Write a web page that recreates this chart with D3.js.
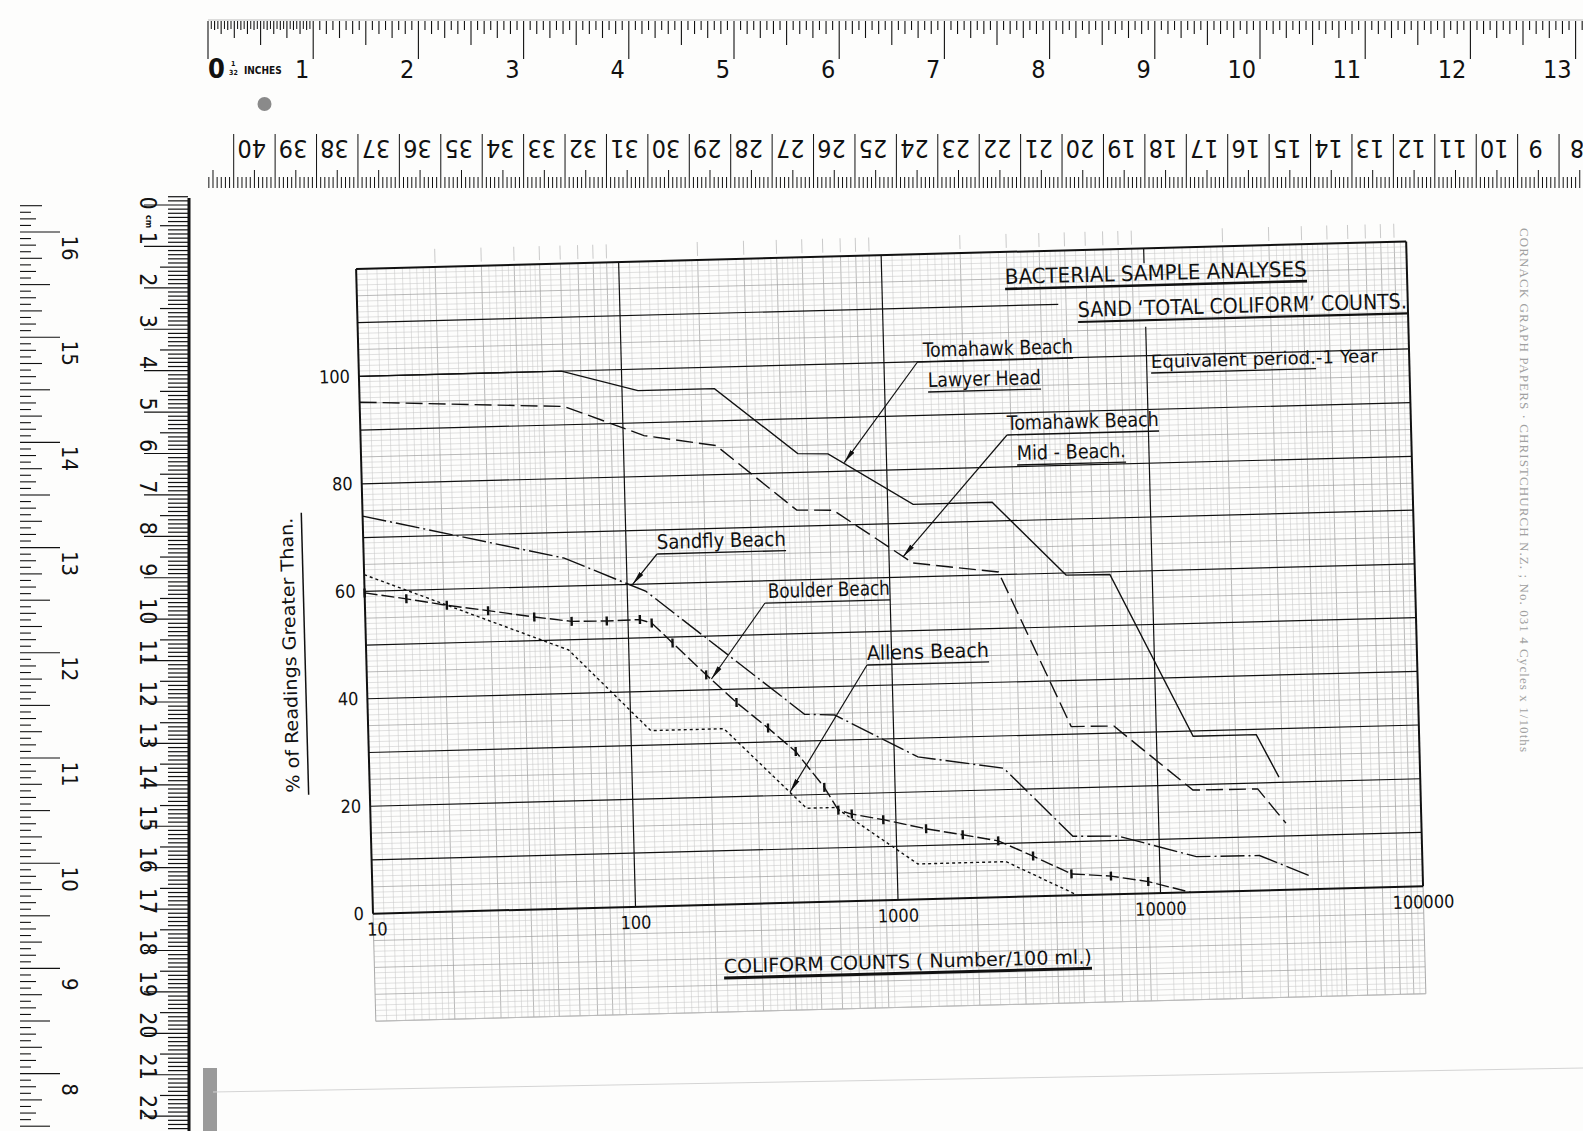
<!DOCTYPE html>
<html>
<head>
<meta charset="utf-8">
<script src="https://cdn.jsdelivr.net/npm/d3@7"></script>
<style>
  body { margin: 0; background: #fdfdfc; }
  text { font-family: "Liberation Sans Narrow", "DejaVu Sans Condensed", "DejaVu Sans", sans-serif; fill: #111; }
</style>
</head>
<body>
<div id="chart"></div>
<script>
// ---- data: [coliform count per 100 ml, % of readings greater than] ----
const countTicks = [10, 100, 1000, 10000, 100000];
const pctTicks = [0, 20, 40, 60, 80, 100];

const lawyerHead = [[10, 100], [59, 100], [115, 96], [225, 96], [460, 83.5], [600, 83.3], [1250, 73.5],
  [2500, 73.5], [4700, 59.6], [6900, 59.5], [13800, 29], [24000, 29], [29000, 21]];
const midBeach = [[10, 95.2], [60, 93.4], [120, 87.6], [225, 85.4], [450, 73], [620, 72.8], [1230, 62.6],
  [2600, 60.5], [4750, 31.4], [6900, 31.3], [13600, 19], [24000, 18.9], [30500, 12.4]];
const sandfly = [[10, 74], [58, 65.2], [118, 58.6], [460, 35], [600, 34.7], [1230, 26.5], [2600, 24],
  [4700, 11], [7000, 10.8], [13800, 6.6], [24000, 6.5], [37500, 2.4]];
const boulder = [[10, 59.7], [14.4, 58.4], [20.5, 57], [29.4, 55.8], [44, 54.4], [61, 53.4], [83, 53.3],
  [111, 53.4], [123, 52.7], [147, 48.9], [196, 42.8], [254, 37.5], [333, 32.6], [422, 28.1], [538, 21.3],
  [605, 17], [680, 16.2], [895, 15], [1300, 13.1], [1790, 11.8], [2440, 10.5], [3300, 7.5], [4600, 4],
  [6500, 3.4], [9000, 2.2], [13000, 0]];
const allens = [[10, 63.1], [59, 48.1], [119, 32.7], [226, 32.7], [458, 17.5], [590, 17.5], [1200, 6.6],
  [2600, 6.6], [4700, 0.3]];

// ---- page ----
const W = 1583, H = 1131;
const svg = d3.select("#chart").append("svg").attr("width", W).attr("height", H);
svg.append("rect").attr("width", W).attr("height", H).attr("fill", "#fdfdfc");

// the sheet was scanned a little crooked
const origin = { x: 373, y: 913.7 }, tilt = -1.5;
const rad = -tilt * Math.PI / 180;
function toLocal(X, Y) {
  let dx = X - origin.x, dy = Y - origin.y;
  return [dx * Math.cos(rad) - dy * Math.sin(rad), dx * Math.sin(rad) + dy * Math.cos(rad)];
}

let x = d3.scaleLog().domain([10, 100000]).range([0, 1050.4]);
let y = d3.scaleLinear().domain([0, 120]).range([0, -645]);

let chart = svg.append("g")
  .attr("transform", `translate(${origin.x},${origin.y}) rotate(${tilt})`);

// fine ruling of the graph paper
const fineMults = [1.1, 1.2, 1.3, 1.4, 1.5, 1.6, 1.7, 1.8, 1.9, 2, 2.2, 2.4, 2.6, 2.8, 3, 3.2, 3.4, 3.6, 3.8,
  4, 4.2, 4.4, 4.6, 4.8, 5, 5.5, 6, 6.5, 7, 7.5, 8, 8.5, 9, 9.5];
let fine = chart.append("g");
[10, 100, 1000, 10000].forEach(dec => {
  fineMults.forEach(m => {
    let whole = Number.isInteger(m);
    fine.append("line")
      .attr("x1", x(dec * m)).attr("x2", x(dec * m))
      .attr("y1", y(-20)).attr("y2", y(120))
      .attr("stroke", whole ? "#9c9c9c" : "#c8c8c8")
      .attr("stroke-width", whole ? 0.7 : 0.55);
    if (whole) {
      fine.append("line")
        .attr("x1", x(dec * m)).attr("x2", x(dec * m))
        .attr("y1", y(120) - 4).attr("y2", y(120) - 18)
        .attr("stroke", "#bdbdbd").attr("stroke-width", 0.8);
    }
  });
});
d3.range(-20, 121).forEach(p => {
  if (p >= 0 && p % 10 === 0) return;
  fine.append("line")
    .attr("x1", 0).attr("x2", x(100000))
    .attr("y1", y(p)).attr("y2", y(p))
    .attr("stroke", p % 5 === 0 ? "#9c9c9c" : "#c8c8c8")
    .attr("stroke-width", p % 5 === 0 ? 0.7 : 0.55);
});
fine.append("line").attr("x1", 0).attr("x2", 0).attr("y1", 0).attr("y2", y(-20)).attr("stroke", "#aaa");
fine.append("line").attr("x1", x(100000)).attr("x2", x(100000)).attr("y1", 0).attr("y2", y(-20)).attr("stroke", "#aaa");
fine.append("line").attr("x1", 0).attr("x2", x(100000)).attr("y1", y(-20)).attr("y2", y(-20)).attr("stroke", "#bbb");

// main ruling
let major = chart.append("g").attr("stroke", "#111");
d3.range(0, 121, 10).forEach(p => {
  major.append("line")
    .attr("x1", 0).attr("x2", p === 110 ? x(4670) : x(100000))
    .attr("y1", y(p)).attr("y2", y(p))
    .attr("stroke-width", (p === 0 || p === 120) ? 2 : 1.2);
});
countTicks.forEach(c => {
  let edge = (c === 10 || c === 100000);
  let spans = c === 10000 ? [[0, 105.4], [117.2, 120]] : [[0, 120]];
  spans.forEach(s => {
    major.append("line")
      .attr("x1", x(c)).attr("x2", x(c))
      .attr("y1", y(s[0])).attr("y2", y(s[1]))
      .attr("stroke-width", edge ? 2 : 1.2);
  });
});

// axis labels
chart.append("g").selectAll("text").data(pctTicks).enter().append("text")
  .attr("x", -9).attr("y", d => y(d) + 6)
  .attr("text-anchor", "end").attr("font-size", 18)
  .text(d => d);
chart.append("g").selectAll("text").data(countTicks).enter().append("text")
  .attr("x", d => x(d) + (d === 10 ? 4 : 0)).attr("y", 22)
  .attr("text-anchor", "middle").attr("font-size", 18)
  .text(d => d);

// curves
let line = d3.line().x(d => x(d[0])).y(d => y(d[1]));
const curves = [
  { data: lawyerHead, dash: null },
  { data: midBeach, dash: "17,6" },
  { data: sandfly, dash: "24,4,2,4" },
  { data: boulder, dash: "13,4" },
  { data: allens, dash: "3,3" }
];
chart.append("g").selectAll("path").data(curves).enter().append("path")
  .attr("d", d => line(d.data))
  .attr("fill", "none").attr("stroke", "#111").attr("stroke-width", 1.4)
  .attr("stroke-dasharray", d => d.dash);
chart.append("g").selectAll("line").data(boulder.slice(0, -1)).enter().append("line")
  .attr("x1", d => x(d[0])).attr("x2", d => x(d[0]))
  .attr("y1", d => y(d[1]) - 4.5).attr("y2", d => y(d[1]) + 4.5)
  .attr("stroke", "#111").attr("stroke-width", 2.4);

// lettering (positions taken from the sheet, page pixels)
const notes = [
  { t: "BACTERIAL  SAMPLE  ANALYSES", X: 1005, Y: 284, w: 302, fs: 21, ul: 2.6 },
  { t: "SAND  ‘TOTAL  COLIFORM’  COUNTS.", X: 1078, Y: 317, w: 329, fs: 21, ul: 2.2 },
  { t: "Tomahawk  Beach", X: 923, Y: 357, w: 150, fs: 20, ul: 1.3, pre: 6 },
  { t: "Lawyer  Head", X: 928, Y: 387, w: 113, fs: 20, ul: 1.3 },
  { t: "Equivalent   period.-1 Year", X: 1151, Y: 368, w: 227, fs: 18, ul: 1.3, ulw: 165 },
  { t: "Tomahawk  Beach", X: 1007, Y: 430, w: 152, fs: 20, ul: 1.3 },
  { t: "Mid - Beach.", X: 1017, Y: 460, w: 109, fs: 20, ul: 1.3 },
  { t: "Sandfly  Beach", X: 657, Y: 549, w: 129, fs: 20, ul: 1.3 },
  { t: "Boulder  Beach", X: 768, Y: 598, w: 122, fs: 20, ul: 1.3, pre: 3 },
  { t: "Allens  Beach", X: 867, Y: 660, w: 122, fs: 20, ul: 1.3 },
  { t: "COLIFORM   COUNTS   ( Number/100 ml.)", X: 724, Y: 973, w: 368, fs: 19, ul: 3 }
];
let lettering = chart.append("g");
notes.forEach(n => {
  let p = toLocal(n.X, n.Y);
  lettering.append("text")
    .attr("x", p[0]).attr("y", p[1])
    .attr("font-size", n.fs)
    .attr("textLength", n.w).attr("lengthAdjust", "spacingAndGlyphs")
    .text(n.t);
  lettering.append("line")
    .attr("x1", p[0] - (n.pre || 0)).attr("x2", p[0] + (n.ulw || n.w))
    .attr("y1", p[1] + 5).attr("y2", p[1] + 5)
    .attr("stroke", "#111").attr("stroke-width", n.ul);
});

// leaders with arrowheads
svg.append("defs").append("marker")
  .attr("id", "arrow").attr("viewBox", "0 0 14 6")
  .attr("refX", 14).attr("refY", 3)
  .attr("markerWidth", 14).attr("markerHeight", 6)
  .attr("markerUnits", "userSpaceOnUse").attr("orient", "auto")
  .append("path").attr("d", "M0,0.6 L14,3 L0,5.4 Z").attr("fill", "#111");
const leaders = [
  { X: 917.5, Y: 362, tip: [690, 81.6] },
  { X: 1007, Y: 435, tip: [1130, 63.8] },
  { X: 657, Y: 554, tip: [105, 60] },
  { X: 765, Y: 603, tip: [205, 42] },
  { X: 867, Y: 665, tip: [398, 20.6] }
];
leaders.forEach(l => {
  let p = toLocal(l.X, l.Y);
  chart.append("line")
    .attr("x1", p[0]).attr("y1", p[1])
    .attr("x2", x(l.tip[0])).attr("y2", y(l.tip[1]))
    .attr("stroke", "#111").attr("stroke-width", 1.2)
    .attr("marker-end", "url(#arrow)");
});

// y axis title
let yt = toLocal(296, 655);
let ytg = chart.append("g").attr("transform", `translate(${yt[0]},${yt[1]}) rotate(-90)`);
ytg.append("text").attr("text-anchor", "middle").attr("font-size", 18)
  .attr("textLength", 275).attr("lengthAdjust", "spacingAndGlyphs")
  .text("%  of  Readings  Greater  Than.");
ytg.append("line").attr("x1", -140).attr("x2", 142).attr("y1", 9).attr("y2", 9)
  .attr("stroke", "#111").attr("stroke-width", 1.5);

// ---- rulers lying on the sheet ----
const inchPx = 105.2, cmPx = inchPx / 2.54;
const inchLabels = d3.range(1, 14);
let rulers = svg.append("g").attr("stroke", "#111");

// top: inches
const inchX0 = 208;
for (let i = 0; i * inchPx / 16 + inchX0 < W; i++) {
  let X = inchX0 + i * inchPx / 16;
  let len = i % 16 === 0 ? 38 : i % 8 === 0 ? 24 : i % 4 === 0 ? 17 : i % 2 === 0 ? 13 : 9;
  rulers.append("line").attr("x1", X).attr("x2", X).attr("y1", 21).attr("y2", 21 + len).attr("stroke-width", 1.1);
}
for (let i = 1; i < 32; i += 2) {
  let X = inchX0 + i * inchPx / 32;
  rulers.append("line").attr("x1", X).attr("x2", X).attr("y1", 21).attr("y2", 29).attr("stroke-width", 1);
}
rulers.append("line").attr("x1", inchX0).attr("x2", W).attr("y1", 20).attr("y2", 20).attr("stroke", "#bbb");
svg.append("g").selectAll("text").data(inchLabels).enter().append("text")
  .attr("x", d => inchX0 + d * inchPx - 4).attr("y", 78)
  .attr("text-anchor", "end").attr("font-size", 25)
  .text(d => d);
svg.append("text").attr("x", 208).attr("y", 78).attr("font-size", 27).attr("font-weight", "bold").text("0");
svg.append("text").attr("x", 231).attr("y", 66).attr("font-size", 7).attr("font-weight", "bold").text("1");
svg.append("text").attr("x", 229).attr("y", 75).attr("font-size", 7).attr("font-weight", "bold").text("32");
svg.append("text").attr("x", 244).attr("y", 74).attr("font-size", 10).attr("font-weight", "bold").text("INCHES");

// top: centimetres, upside down
const cmLabels = d3.range(40, 7, -1);
const cmX40 = 233.7;
for (let n = -6; cmX40 + n * cmPx / 10 < W; n++) {
  let X = cmX40 + n * cmPx / 10;
  let len = n % 10 === 0 ? 54 : n % 5 === 0 ? 18 : 11;
  rulers.append("line").attr("x1", X).attr("x2", X).attr("y1", 188).attr("y2", 188 - len).attr("stroke-width", 1);
}
svg.append("g").selectAll("text").data(cmLabels).enter().append("text")
  .attr("transform", d => `translate(${cmX40 + (40 - d) * cmPx + 18},${140}) rotate(180)`)
  .attr("text-anchor", "middle").attr("font-size", 25)
  .text(d => d);

// left: inches, running up the page
const sideInch = d3.range(16, 7, -1);
const inchY16 = 232;
for (let i = -4; inchY16 + i * inchPx / 16 < H; i++) {
  let Y = inchY16 + i * inchPx / 16;
  let len = i % 16 === 0 ? 40 : i % 8 === 0 ? 30 : i % 4 === 0 ? 22 : i % 2 === 0 ? 16 : 11;
  rulers.append("line").attr("x1", 20).attr("x2", 20 + len).attr("y1", Y).attr("y2", Y).attr("stroke-width", 1.1);
}
svg.append("g").selectAll("text").data(sideInch).enter().append("text")
  .attr("transform", d => `translate(${62},${inchY16 + (16 - d) * inchPx + 16}) rotate(90)`)
  .attr("text-anchor", "middle").attr("font-size", 22)
  .text(d => d);

// left: centimetres
const sideCm = d3.range(1, 23);
const cmY0 = 205;
for (let n = -2; cmY0 + n * cmPx / 10 < H; n++) {
  let Y = cmY0 + n * cmPx / 10;
  let len = n % 10 === 0 ? 44 : n % 5 === 0 ? 28 : 20;
  rulers.append("line").attr("x1", 188).attr("x2", 188 - len).attr("y1", Y).attr("y2", Y).attr("stroke-width", 1.2);
}
rulers.append("line").attr("x1", 189).attr("x2", 189).attr("y1", 198).attr("y2", H).attr("stroke-width", 3);
svg.append("g").selectAll("text").data(sideCm).enter().append("text")
  .attr("transform", d => `translate(${140},${cmY0 + d * cmPx - 8}) rotate(90)`)
  .attr("text-anchor", "middle").attr("font-size", 23)
  .text(d => d);
svg.append("text").attr("transform", `translate(140,${cmY0 - 2}) rotate(90)`)
  .attr("text-anchor", "middle").attr("font-size", 23).text("0");
svg.append("text").attr("transform", `translate(146,${cmY0 + 10}) rotate(90)`)
  .attr("font-size", 9).attr("font-weight", "bold").text("cm");

// odds and ends on the scan
svg.append("circle").attr("cx", 264.5).attr("cy", 104).attr("r", 7).attr("fill", "#8a8a8a");
svg.append("rect").attr("x", 203).attr("y", 1068).attr("width", 14).attr("height", 63).attr("fill", "#9a9a9a");
svg.append("line").attr("x1", 213).attr("y1", 1092).attr("x2", W).attr("y2", 1068)
  .attr("stroke", "#d4d4d4").attr("stroke-width", 1);
svg.append("text")
  .attr("transform", "translate(1520,228) rotate(90)")
  .attr("font-size", 13).style("font-family", "'Liberation Serif', serif").style("fill", "#a0a0a0")
  .attr("textLength", 524).attr("lengthAdjust", "spacing")
  .text("CORNACK  GRAPH  PAPERS · CHRISTCHURCH  N.Z.        ; No. 031  4 Cycles x 1/10ths");
</script>
</body>
</html>
